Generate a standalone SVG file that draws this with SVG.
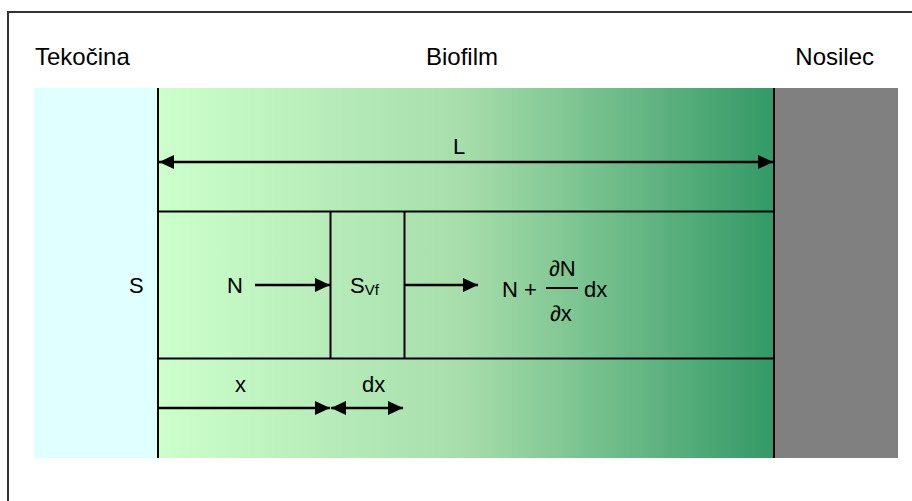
<svg xmlns="http://www.w3.org/2000/svg" width="912" height="501" viewBox="0 0 912 501">
<defs>
<linearGradient id="bio" x1="0" y1="0" x2="1" y2="0">
<stop offset="0" stop-color="#CCFFCC"/>
<stop offset="0.5" stop-color="#A6DDAA"/>
<stop offset="1" stop-color="#339966"/>
</linearGradient>
<marker id="ah" viewBox="0 0 15 14" refX="15" refY="7" markerWidth="15" markerHeight="14" markerUnits="userSpaceOnUse" orient="auto-start-reverse">
<path d="M0,0 L15,7 L0,14 z" fill="#000"/>
</marker>
<style>
text{font-family:"Liberation Sans",Arial,sans-serif;fill:#000}
.hd{font-size:24px}
.lb{font-size:22px}
.ln{stroke:#000;stroke-width:2;fill:none}
.ar{stroke:#000;stroke-width:2.5;fill:none}
</style>
</defs>
<rect x="0" y="0" width="912" height="501" fill="#fff"/>
<path d="M8,520 V12 H930" fill="none" stroke="#333" stroke-width="2"/>
<g id="tekocina">
<rect x="34" y="88" width="124" height="370" fill="#E0FFFF"/>
<text class="hd" x="35" y="65">Tekočina</text>
</g>
<g id="biofilm">
<rect x="158" y="88" width="616" height="370" fill="url(#bio)"/>
<text class="hd" x="462" y="65" text-anchor="middle">Biofilm</text>
</g>
<g id="nosilec">
<rect x="775" y="88" width="123" height="370" fill="#808080"/>
<text class="hd" x="874" y="65" text-anchor="end">Nosilec</text>
</g>
<g id="grid">
<line class="ln" x1="158" y1="88" x2="158" y2="458"/>
<line class="ln" x1="774" y1="88" x2="774" y2="458" stroke="#222"/>
<line class="ln" x1="158" y1="211.5" x2="774" y2="211.5"/>
<line class="ln" x1="158" y1="358.5" x2="774" y2="358.5"/>
<line class="ln" x1="330.5" y1="211.5" x2="330.5" y2="358.5"/>
<line class="ln" x1="404.5" y1="211.5" x2="404.5" y2="358.5"/>
</g>
<g id="labels">
<text class="lb" x="453" y="154">L</text>
<text class="lb" x="129" y="293">S</text>
<text class="lb" x="227" y="293">N</text>
<text class="lb" x="350" y="293">S<tspan font-size="15" dy="2">Vf</tspan></text>
<text class="lb" x="502" y="297">N + </text>
<text class="lb" x="549" y="276">∂N</text>
<line class="ln" x1="546" y1="288" x2="578" y2="288" stroke-width="1.5"/>
<text class="lb" x="550" y="321">∂x</text>
<text class="lb" x="584" y="297">dx</text>
<text class="lb" x="235" y="392">x</text>
<text class="lb" x="362" y="392">dx</text>
</g>
<g id="connectors">
<line class="ar" x1="159" y1="162" x2="773" y2="162" marker-start="url(#ah)" marker-end="url(#ah)"/>
<line class="ar" x1="255" y1="285" x2="330" y2="285" marker-end="url(#ah)"/>
<line class="ar" x1="405" y1="285" x2="478" y2="285" marker-end="url(#ah)"/>
<line class="ar" x1="158" y1="408" x2="330" y2="408" marker-end="url(#ah)"/>
<line class="ar" x1="331" y1="408" x2="403" y2="408" marker-start="url(#ah)" marker-end="url(#ah)"/>
</g>
</svg>
